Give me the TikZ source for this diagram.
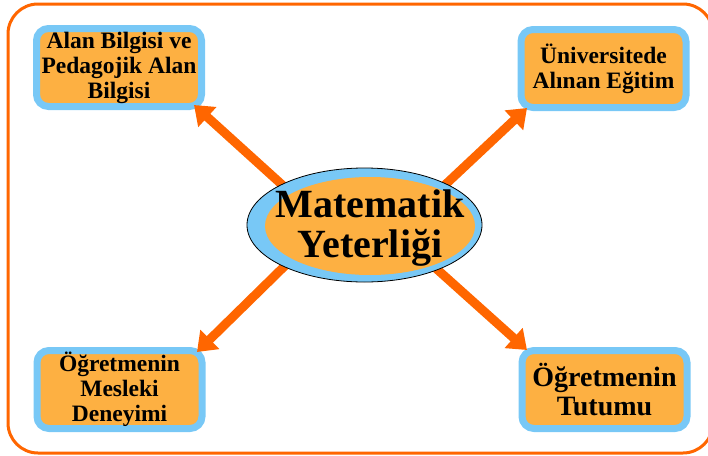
\documentclass[tikz,border=0pt]{standalone}
\usepackage{fontspec}
\setmainfont{Liberation Serif}
\usetikzlibrary{arrows.meta,shapes.geometric}
\definecolor{frameor}{HTML}{FF6600}
\definecolor{boxblue}{HTML}{78C8F6}
\definecolor{boxor}{HTML}{FDB042}
\tikzset{
  box/.style={draw=boxblue, fill=boxor, line width=7pt, rounded corners=12pt,
    minimum width=165pt, minimum height=78pt, inner sep=0pt, align=center,
    font=\bfseries\fontsize{23.5}{25}\selectfont},
  conn/.style={draw=frameor, line width=9pt, -{Triangle[width=26pt,length=18pt]}},
}
\begin{document}
\begin{tikzpicture}[x=1pt,y=-1pt]
\useasboundingbox (0,0) rectangle (708,455);
\draw[frameor, line width=3pt, rounded corners=30pt] (8,4) rectangle (713,453);
\node[box] (b1) at (119,67.5) {Alan Bilgisi ve\\Pedagojik Alan\\Bilgisi};
\node[box] (b2) at (603.5,68.5) {Üniversitede\\Alınan Eğitim};
\node[box] (b3) at (119.5,389.5) {Öğretmenin\\Mesleki\\Deneyimi};
\node[box, font=\bfseries\fontsize{28}{29}\selectfont] (b4) at (604.5,389.5) {Öğretmenin\\Tutumu};
\coordinate (s1) at (300,201); \coordinate (t1) at (194,105);
\coordinate (s2) at (430,199); \coordinate (t2) at (527,108);
\coordinate (s3) at (300,251); \coordinate (t3) at (197,352);
\coordinate (s4) at (430,263); \coordinate (t4) at (527,350);
\draw[conn] (s1) -- (t1);
\draw[conn] (s2) -- (t2);
\draw[conn] (s3) -- (t3);
\draw[conn] (s4) -- (t4);
\node[ellipse, draw=black, line width=0.8pt, fill=boxblue, minimum width=235pt, minimum height=114pt, inner sep=0pt] (eo) at (364.5,225) {};
\node[ellipse, fill=boxor, minimum width=210pt, minimum height=98pt, inner sep=0pt] (ei) at (370,226) {};
\node[align=center, inner sep=0pt, font=\bfseries\fontsize{40}{40}\selectfont] (et) at (370,228) {Matematik\\Yeterliği};
\end{tikzpicture}
\end{document}
